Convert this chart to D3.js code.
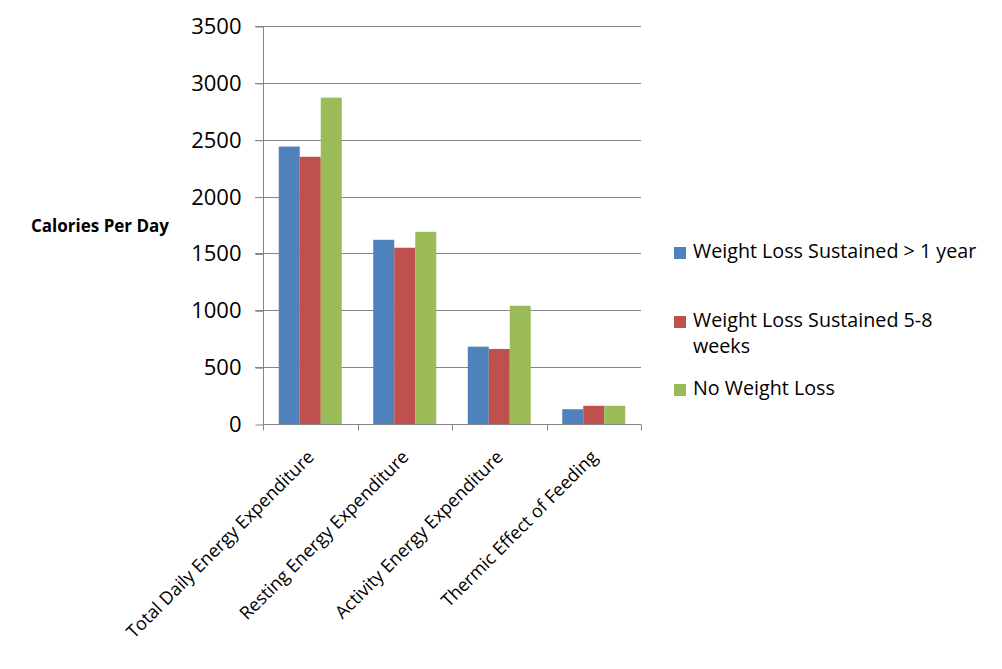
<!DOCTYPE html>
<html>
<head>
<meta charset="utf-8">
<script src="https://cdn.jsdelivr.net/npm/d3@7"></script>
<style>
  html, body { margin: 0; padding: 0; background: #fff; }
  svg text { font-family: "Open Sans", "Noto Sans", sans-serif; fill: #000; }
</style>
</head>
<body>
<svg id="chart" width="1002" height="669"></svg>
<script>
const categories = ["Total Daily Energy Expenditure", "Resting Energy Expenditure", "Activity Energy Expenditure", "Thermic Effect of Feeding"];
const seriesNames = ["Weight Loss Sustained > 1 year", "Weight Loss Sustained 5-8 weeks", "No Weight Loss"];
const sustainedYear = [2440, 1620, 680, 130];
const sustainedWeeks = [2350, 1550, 660, 160];
const noLoss = [2870, 1690, 1040, 160];
const yTicks = [0, 500, 1000, 1500, 2000, 2500, 3000, 3500];
const colors = ["#4F81BD", "#C0504D", "#9BBB59"];
const yLabel = "Calories Per Day";

const series = [sustainedYear, sustainedWeeks, noLoss];

const svg = d3.select("#chart");
const pLeft = 263, pRight = 641, pTop = 26, pBottom = 424;

const x = d3.scaleBand().domain(categories).range([pLeft, pRight]).paddingInner(0).paddingOuter(0);
const bw = x.bandwidth() / 4.5;
const xs = d3.scaleBand().domain(d3.range(series.length)).range([bw * 0.75, bw * 3.75]);
const y = d3.scaleLinear().domain([0, 3500]).range([pBottom, pTop]);

// gridlines
svg.append("g").selectAll("line").data(yTicks.filter(d => d > 0)).join("line")
  .attr("x1", pLeft - 8).attr("x2", pRight)
  .attr("y1", d => Math.round(y(d)) + 0.5).attr("y2", d => Math.round(y(d)) + 0.5)
  .attr("stroke", "#868686").attr("stroke-width", 1);

// bars
const g = svg.append("g");
series.forEach((vals, si) => {
  g.selectAll(null).data(vals).join("rect")
    .attr("x", (d, i) => x(categories[i]) + xs(si))
    .attr("y", d => y(d))
    .attr("width", xs.bandwidth())
    .attr("height", d => pBottom - y(d))
    .attr("fill", colors[si]);
});

// y axis
const yAxis = d3.axisLeft(y).tickValues(yTicks).tickSize(8).tickPadding(14).tickFormat(d3.format("d"));
const ya = svg.append("g").attr("transform", `translate(${pLeft + 0.5},0.5)`).call(yAxis);
ya.select(".domain").attr("stroke", "#868686").attr("d", `M-8,${pTop}H0V${pBottom}`);
ya.selectAll(".tick line").attr("stroke", "#868686");
ya.selectAll(".tick text").style("font-size", "22px").style("font-family", "Open Sans, sans-serif").attr("fill", "#000");

// x axis
const xAxis = d3.axisBottom(x).tickSize(0).tickFormat("");
const xa = svg.append("g").attr("transform", `translate(0,${pBottom + 0.5})`).call(xAxis);
xa.select(".domain").attr("stroke", "#868686").attr("d", `M${pLeft},0H${pRight}`);
xa.selectAll(".tick").remove();
xa.selectAll("line.sep").data(d3.range(categories.length + 1)).join("line")
  .attr("class", "sep")
  .attr("x1", i => Math.round(pLeft + i * x.step()) + 0.5)
  .attr("x2", i => Math.round(pLeft + i * x.step()) + 0.5)
  .attr("y1", 0).attr("y2", 6).attr("stroke", "#868686");

// x labels
svg.append("g").selectAll("text").data(categories).join("text")
  .attr("transform", d => `translate(${x(d) + x.bandwidth() / 2 + 5},${pBottom + 34}) rotate(-45)`)
  .attr("text-anchor", "end")
  .style("font-size", "18px")
  .text(d => d);

// y label
svg.append("text").attr("x", 31).attr("y", 232)
  .style("font-size", "17px").style("font-weight", "bold").text(yLabel);

// legend
const legendItems = [
  { lines: ["Weight Loss Sustained > 1 year"], y: 258 },
  { lines: ["Weight Loss Sustained 5-8", "weeks"], y: 327 },
  { lines: ["No Weight Loss"], y: 395 }
];
const lg = svg.append("g");
legendItems.forEach((it, i) => {
  lg.append("rect").attr("x", 674).attr("y", it.y - 11).attr("width", 12).attr("height", 12).attr("fill", colors[i]);
  const t = lg.append("text").attr("x", 693).attr("y", it.y).style("font-size", "19.7px");
  it.lines.forEach((ln, j) => {
    t.append("tspan").attr("x", 693).attr("dy", j === 0 ? 0 : 26).text(ln);
  });
});
</script>
</body>
</html>
